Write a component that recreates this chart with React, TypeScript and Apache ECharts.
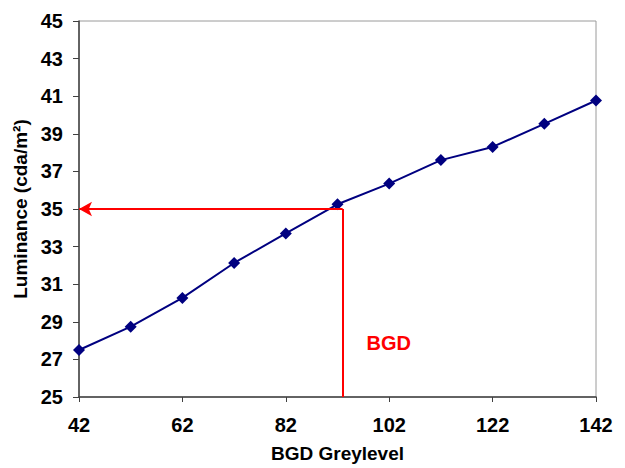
import React, { useEffect, useRef } from "react";
import * as echarts from "echarts";

// Background grey level vs. measured luminance
const greylevels = [42, 52, 62, 72, 82, 92, 102, 112, 122, 132, 142];
const luminance = [27.5, 28.74, 30.27, 32.13, 33.7, 35.25, 36.35, 37.6, 38.3, 39.53, 40.77];

const xTicks = [42, 62, 82, 102, 122, 142];
const yTicks = [25, 27, 29, 31, 33, 35, 37, 39, 41, 43, 45];

// Operating point marked in red
const bgdGrey = 93;
const bgdLum = 35;
const bgdLabel = "BGD";
const bgdLabelAt = [101.9, 27.86];

const FONT = "'Liberation Sans', Arial, sans-serif";

export default function App() {
  const ref = useRef<HTMLDivElement>(null);

  useEffect(() => {
    document.body.style.margin = "0";
    if (!ref.current) return;
    const chart = echarts.init(ref.current, null, { renderer: "svg" });
    const tickText = { color: "#000", fontFamily: FONT, fontWeight: "bold" as const, fontSize: 20 };
    const nameText = { color: "#000", fontFamily: FONT, fontWeight: "bold" as const, fontSize: 19 };
    chart.setOption({
      animation: false,
      backgroundColor: "#fff",
      grid: {
        left: 79,
        right: 29,
        top: 21,
        bottom: 69,
        show: true,
        borderColor: "#9a9a9a",
        borderWidth: 1,
        backgroundColor: "transparent",
      },
      xAxis: {
        type: "value",
        min: greylevels[0],
        max: greylevels[greylevels.length - 1],
        name: "BGD Greylevel",
        nameLocation: "middle",
        nameGap: 47,
        nameTextStyle: { ...nameText },
        axisLine: { show: true, lineStyle: { color: "#404040", width: 1.5 } },
        axisTick: { show: true, length: 5, customValues: xTicks, lineStyle: { color: "#404040" } },
        axisLabel: { ...tickText, margin: 18, customValues: xTicks },
        splitLine: { show: false },
      },
      yAxis: {
        type: "value",
        min: yTicks[0],
        max: yTicks[yTicks.length - 1],
        name: "Luminance (cda/m²)",
        nameLocation: "middle",
        nameGap: 45,
        nameRotate: 90,
        nameTextStyle: { ...nameText },
        axisLine: { show: true, lineStyle: { color: "#404040", width: 1.5 } },
        axisTick: { show: true, length: 6, customValues: yTicks, lineStyle: { color: "#404040" } },
        axisLabel: { ...tickText, margin: 16, customValues: yTicks },
        splitLine: { show: false },
      },
      series: [
        {
          type: "line",
          data: greylevels.map((g, i) => [g, luminance[i]]),
          symbol: "diamond",
          symbolSize: 12,
          lineStyle: { color: "#000080", width: 2 },
          itemStyle: { color: "#000080" },
          z: 3,
          markLine: {
            silent: true,
            symbol: "none",
            label: { show: false },
            lineStyle: { color: "#ff0000", width: 2, type: "solid" },
            data: [
              [
                { coord: [bgdGrey, bgdLum], symbol: "none" },
                { coord: [greylevels[0], bgdLum], symbol: "arrow", symbolSize: [11, 13] },
              ],
              [
                { coord: [bgdGrey, yTicks[0]], symbol: "none" },
                { coord: [bgdGrey, bgdLum], symbol: "none" },
              ],
            ],
          },
          markPoint: {
            silent: true,
            symbol: "circle",
            symbolSize: 0,
            label: {
              show: true,
              position: "inside",
              formatter: bgdLabel,
              color: "#ff0000",
              fontFamily: FONT,
              fontWeight: "bold",
              fontSize: 20,
            },
            data: [{ coord: bgdLabelAt }],
          },
        },
      ],
    });
    return () => chart.dispose();
  }, []);

  return <div ref={ref} style={{ width: 625, height: 468 }} />;
}
